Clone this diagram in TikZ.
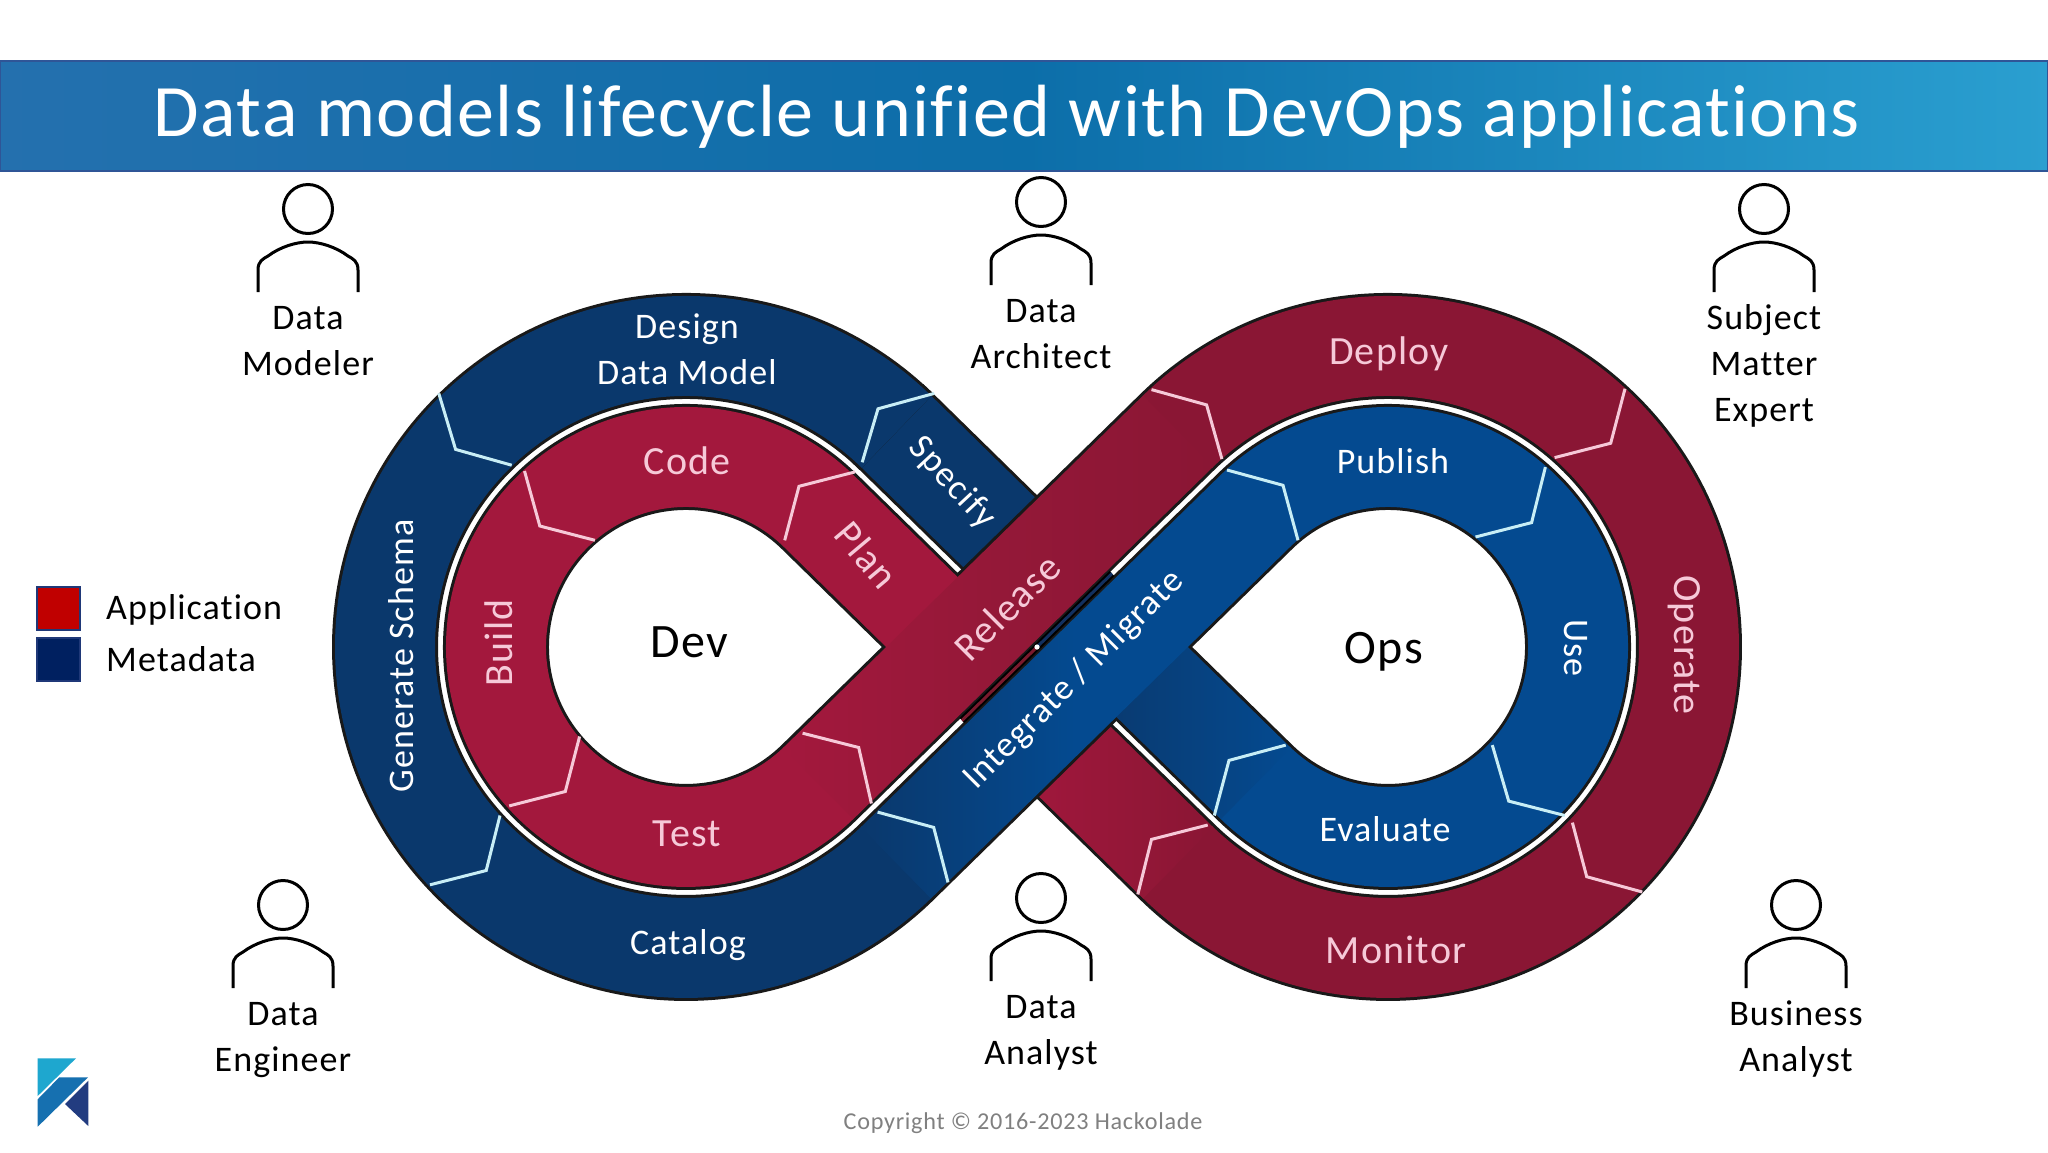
\documentclass[tikz,border=0pt]{standalone}
\usepackage{fontspec}
\setmainfont{Carlito}[Ligatures=NoCommon,LetterSpace=3]
\newfontfamily\titlefont{Carlito}[Ligatures=NoCommon,LetterSpace=2]
\definecolor{innerred}{HTML}{A3183D}
\definecolor{midred}{HTML}{941838}
\definecolor{outerred}{HTML}{8A1634}
\definecolor{outerblue}{HTML}{0A386C}
\definecolor{innerblue}{HTML}{044A90}
\definecolor{palepink}{HTML}{F6C9D8}
\definecolor{paleblue}{HTML}{C8EEF6}
\definecolor{headL}{HTML}{2470AE}
\definecolor{headM}{HTML}{0C6EA9}
\definecolor{headR}{HTML}{2A9FD0}
\definecolor{headB}{HTML}{2F5597}
\definecolor{seamred}{HTML}{7A1A2E}
\definecolor{seamblue}{HTML}{12305F}
\definecolor{legred}{HTML}{C00000}
\definecolor{legblue}{HTML}{002060}
\definecolor{legedge}{HTML}{1F3878}
\definecolor{logoA}{HTML}{1EA7CF}
\definecolor{logoB}{HTML}{1670B0}
\definecolor{logoC}{HTML}{223C80}
\tikzset{
  edgeline/.style={draw=black!90,line width=106pt},
  bandfill/.style={line width=100pt},
  chevblue/.style={draw=paleblue,line width=3pt,line join=miter},
  chevpink/.style={draw=palepink,line width=3pt,line join=miter},
  lbl/.style={inner sep=0pt,font=\fontsize{36}{36}\selectfont},
  onblue/.style={lbl,text=white},
  onred/.style={inner sep=0pt,font=\fontsize{40}{40}\selectfont,text=palepink},
  people/.style={lbl,text=black,anchor=base},
  bigword/.style={inner sep=0pt,anchor=base,font=\fontsize{48}{48}\selectfont},
  person/.pic={
    \node[circle,draw=black,line width=3pt,minimum size=49pt,inner sep=0pt] (-head) at (0,0) {};
    \draw[line width=3pt,line cap=butt] (-50,-83) -- (-50,-61) .. controls (-50,-52) and (-45,-50) .. (-40,-47)
      .. controls (-28,-38) and (-12,-33) .. (0,-33) .. controls (12,-33) and (28,-38) .. (40,-47)
      .. controls (45,-50) and (50,-52) .. (50,-61) -- (50,-83);
  }
}
\begin{document}
\begin{tikzpicture}[x=1pt,y=1pt,yscale=-1]
\useasboundingbox (0,0) rectangle (2048,1152);
\fill[white] (0,0) rectangle (2048,1152);
% header
\shade[left color=headL,right color=headR,middle color=headM] (0,61) rectangle (2048,171);
\draw[headB,line width=1.5pt] (0,61) rectangle (2048,171);
\node[inner sep=0pt,anchor=base,text=white,font=\titlefont\fontsize{74}{74}\selectfont] (title) at (1007,136.7) {Data models lifecycle unified with DevOps applications};
% Specify tail, under Release
\draw[edgeline] (1036.6,569) -- (896.6,431.9) arc[start angle=-45.6,end angle=-48,radius=301];
\draw[bandfill,outerblue] (1036.6,569) -- (896.6,431.9) arc[start angle=-45.6,end angle=-48,radius=301];
% red track
\draw[edgeline] (957.5,646.9) -- (818.9,511.2) arc[start angle=-45.6,end angle=-314.4,radius=190] -- (1177.4,431.9) arc[start angle=-134.4,end angle=134.4,radius=301] -- (1037.4,725);
\draw[bandfill,innerred] (957.5,646.9) -- (818.9,511.2) arc[start angle=-45.6,end angle=-314.4,radius=190];
\draw[bandfill,outerred] (1177.4,431.9) arc[start angle=-134.4,end angle=134.4,radius=301];
\shade[left color=innerred,right color=outerred,middle color=midred] (783.2,747.8) -- (853.2,819.2) -- (1213.1,466.9) -- (1143.1,395.5) -- cycle;
\shade[left color=innerred,right color=outerred] (1072.4,689.3) -- (1002.4,760.7) -- (1143.1,898.5) -- (1213.1,827.1) -- cycle;
% blue track
\draw[edgeline] (896.6,431.9) arc[start angle=-45.6,end angle=-314.4,radius=301] -- (1255.1,511.2) arc[start angle=-134.4,end angle=134.4,radius=190] -- (1116.5,647.1);
\draw[bandfill,outerblue] (896.6,431.9) arc[start angle=-45.6,end angle=-314.4,radius=301];
\draw[bandfill,innerblue] (1255.1,511.2) arc[start angle=-134.4,end angle=134.4,radius=190];
\shade[left color=outerblue,right color=innerblue] (1151.5,611.4) -- (1081.5,682.8) -- (1220.8,819.2) -- (1290.8,747.8) -- cycle;
\shade[left color=outerblue,right color=innerblue,middle color=innerblue] (860.9,827.1) -- (930.9,898.5) -- (1290.8,546.2) -- (1220.8,474.8) -- cycle;
% seam between the crossing bands
\draw[black,line width=7pt] (962,720.5) -- (1112,573.5);
\draw[seamred,line width=3pt] (962,720.5) -- (1037,647);
\draw[seamblue,line width=3pt] (1037,647) -- (1112,573.5);
\fill[white] (1037,647) circle (2.6);
% chevrons
\draw[chevblue] (438.8,393.4) -- (455.6,449.4) -- (511.7,465.2);
\draw[chevblue] (934.2,393.4) -- (878,408.8) -- (862.2,462.3);
\draw[chevblue] (430,884.8) -- (486.2,870.5) -- (500,815.5);
\draw[chevblue] (877.6,812.1) -- (933.7,827.4) -- (948,882.4);
\draw[chevpink] (524.5,471) -- (539.8,526) -- (594.9,540.3);
\draw[chevpink] (855,471.9) -- (799,486.3) -- (784.7,540.3);
\draw[chevpink] (509.2,805.9) -- (565.3,791.5) -- (579.6,736.5);
\draw[chevpink] (802.6,733.2) -- (858.7,747.5) -- (871.4,803.5);
\draw[chevpink] (1151.5,389.6) -- (1206.6,404.9) -- (1221.9,459);
\draw[chevpink] (1625,388.7) -- (1610.7,443.2) -- (1554.6,457.6);
\draw[chevpink] (1572.4,822.6) -- (1586.7,876.7) -- (1642.3,892);
\draw[chevpink] (1207.7,825) -- (1151.5,839.4) -- (1137.8,894.4);
\draw[chevblue] (1227,470) -- (1283,485.3) -- (1298,540.3);
\draw[chevblue] (1545.4,467.1) -- (1531.6,522.6) -- (1475.5,537);
\draw[chevblue] (1492.3,745.1) -- (1508.7,801.1) -- (1564.8,815.5);
\draw[chevblue] (1285.7,745.1) -- (1229,760.4) -- (1214.3,815.5);
% band labels
\node[onblue,anchor=base] (design) at (687,338.4) {Design};
\node[onblue,anchor=base] (datamodel) at (687,384.4) {Data Model};
\node[onred,anchor=base] (code) at (687,474.3) {Code};
\node[onblue,rotate=-47] (specify) at (952,483) {Specify};
\node[onred,rotate=-50] (plan) at (867,555) {Plan};
\node[onblue,rotate=90] (genschema) at (401,656) {Generate Schema};
\node[onred,rotate=90] (build) at (499,643) {Build};
\node[onred,anchor=base] (test) at (687,846.6) {Test};
\node[onblue,anchor=base] (catalog) at (688,954.2) {Catalog};
\node[onred,rotate=45] (release) at (1007,607) {Release};
\node[onblue,rotate=45] (integrate) at (1074,680) {Integrate / Migrate};
\node[onred,anchor=base] (deploy) at (1389,364.3) {Deploy};
\node[onblue,anchor=base] (publish) at (1393,473.3) {Publish};
\node[onred,rotate=-90] (operate) at (1684,645) {Operate};
\node[onblue,rotate=-90] (use) at (1576,648) {Use};
\node[onblue,anchor=base] (evaluate) at (1385,841.8) {Evaluate};
\node[onred,anchor=base] (monitor) at (1396,963.8) {Monitor};
\node[bigword] (dev) at (689,657.6) {Dev};
\node[bigword] (ops) at (1384,663.3) {Ops};
% people
\pic (p1) at (308,209) {person};
\pic (p2) at (1041,202) {person};
\pic (p3) at (1764,209) {person};
\pic (p4) at (283,905) {person};
\pic (p5) at (1041,898) {person};
\pic (p6) at (1796,905) {person};
\node[people] (t1a) at (308,329) {Data};
\node[people] (t1b) at (308,375) {Modeler};
\node[people] (t2a) at (1041,322) {Data};
\node[people] (t2b) at (1041,368) {Architect};
\node[people] (t3a) at (1764,329) {Subject};
\node[people] (t3b) at (1764,375) {Matter};
\node[people] (t3c) at (1764,421) {Expert};
\node[people] (t4a) at (283,1025) {Data};
\node[people] (t4b) at (283,1071) {Engineer};
\node[people] (t5a) at (1041,1018) {Data};
\node[people] (t5b) at (1041,1064) {Analyst};
\node[people] (t6a) at (1796,1025) {Business};
\node[people] (t6b) at (1796,1071) {Analyst};
% legend
\draw[fill=legred,draw=legedge,line width=2pt] (37,587) rectangle (80,630);
\draw[fill=legblue,draw=legedge,line width=2pt] (37,638) rectangle (80,681);
\node[lbl,anchor=west] (lega) at (106,610) {Application};
\node[lbl,anchor=west] (legb) at (106,659) {Metadata};
% logo
\fill[logoA] (37.7,1058.3) -- (76,1058.3) -- (37.7,1096) -- cycle;
\fill[logoB] (37.7,1099.3) -- (59.3,1077.3) -- (88,1077.3) -- (37.7,1126.7) -- cycle;
\fill[logoC] (88.3,1080.7) -- (88.3,1126) -- (65,1104) -- cycle;
\node[inner sep=0pt,text=black!50,font=\fontsize{24.2}{25}\selectfont] (copy) at (1023,1123) {Copyright © 2016-2023 Hackolade};
\end{tikzpicture}
\end{document}
